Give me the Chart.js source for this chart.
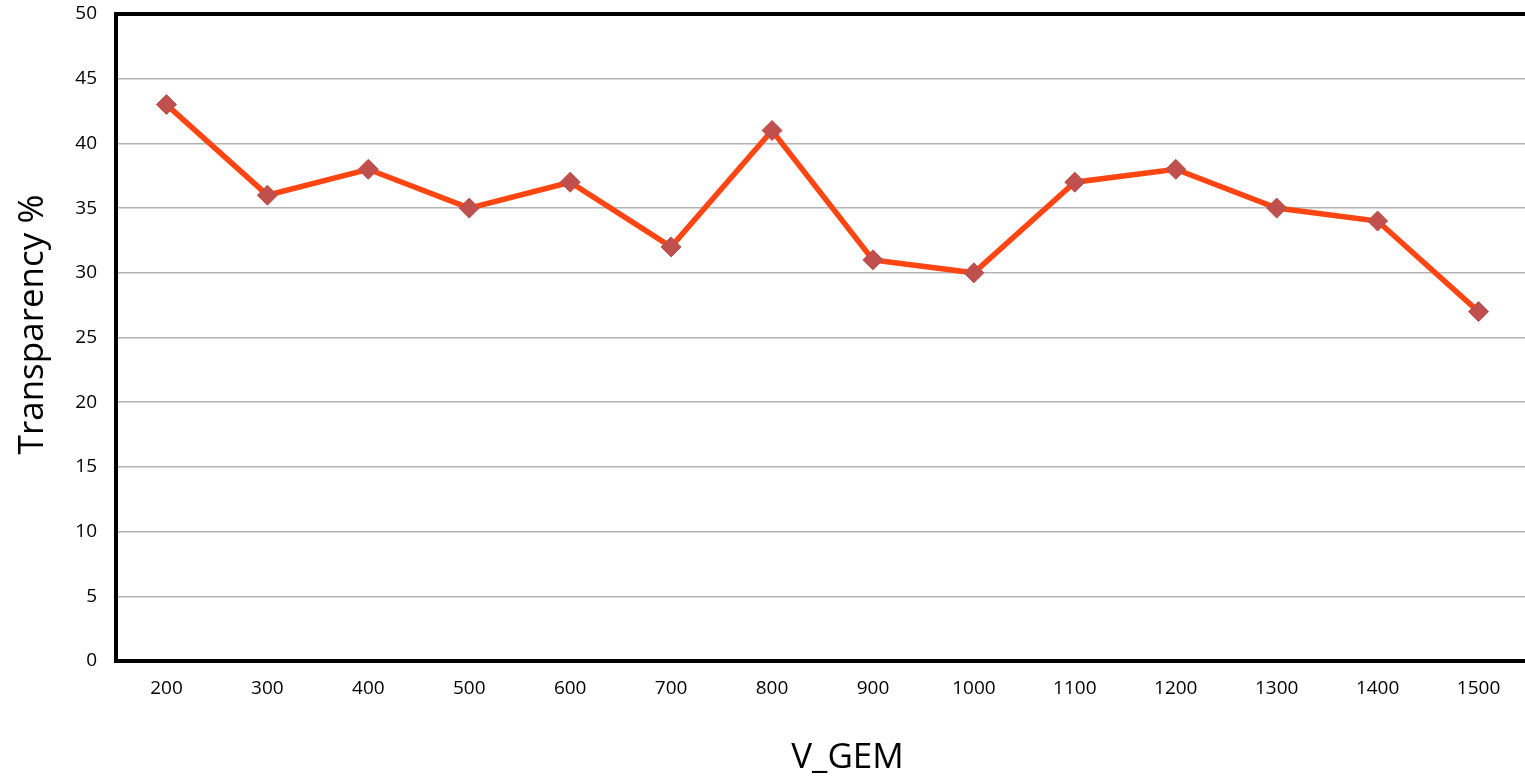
<!DOCTYPE html>
<html>
<head>
<meta charset="utf-8">
<script src="https://cdn.jsdelivr.net/npm/chart.js@4/dist/chart.umd.min.js"></script>
<style>
  html, body { margin: 0; padding: 0; background: #fff; overflow: hidden; }
  #wrap { width: 1540px; height: 782px; }
</style>
</head>
<body>
<div id="wrap"><canvas id="c" width="1540" height="782"></canvas></div>
<script>
// GEM voltage settings (x categories)
const voltages = ['200', '300', '400', '500', '600', '700', '800', '900', '1000', '1100', '1200', '1300', '1400', '1500'];
// Measured transparency (%) at each voltage
const transparency = [43, 36, 38, 35, 37, 32, 41, 31, 30, 37, 38, 35, 34, 27];
// Value axis range and step
const yMin = 0;
const yMax = 50;
const yStep = 5;
// Axis titles
const xTitle = 'V_GEM';
const yTitle = 'Transparency %';

const FONT = "'Open Sans', 'Noto Sans', sans-serif";

// Axis titles, placed relative to the plot area
const axisTitles = {
  id: 'axisTitles',
  afterDraw(chart) {
    const { ctx, chartArea } = chart;
    ctx.save();
    ctx.fillStyle = '#000';
    ctx.font = `35px ${FONT}`;
    ctx.textAlign = 'center';
    ctx.textBaseline = 'middle';
    // horizontal title under the category labels
    ctx.fillText(xTitle, (chartArea.left + chartArea.right) / 2 + 25, chartArea.bottom + 97);
    // vertical title left of the value labels
    ctx.translate(33, (chartArea.top + chartArea.bottom) / 2 - 13);
    ctx.rotate(-Math.PI / 2);
    ctx.fillText(yTitle, 0, 0);
    ctx.restore();
  }
};

new Chart(document.getElementById('c'), {
  type: 'line',
  data: {
    labels: voltages,
    datasets: [{
      data: transparency,
      borderColor: '#FF4512',
      borderWidth: 5.5,
      tension: 0,
      fill: false,
      pointStyle: 'rectRot',
      pointRadius: 10,
      pointHoverRadius: 10,
      pointBackgroundColor: '#C0504D',
      pointBorderColor: '#BA4D4A',
      pointBorderWidth: 1
    }]
  },
  plugins: [axisTitles],
  options: {
    responsive: false,
    animation: false,
    layout: { padding: { top: 14, right: 10, left: 0, bottom: 0 } },
    plugins: {
      legend: { display: false },
      tooltip: { enabled: false }
    },
    scales: {
      x: {
        type: 'category',
        offset: true,
        grid: { display: false, drawTicks: false },
        border: { display: true, color: '#000', width: 4 },
        ticks: {
          color: '#000',
          font: { family: FONT, size: 19 },
          padding: 16,
          maxRotation: 0,
          autoSkip: false
        },
        afterFit: (scale) => {
          scale.height = 121;
          scale.paddingLeft = 0;
          scale.paddingRight = 0;
        }
      },
      y: {
        min: yMin,
        max: yMax,
        ticks: {
          stepSize: yStep,
          color: '#000',
          font: { family: FONT, size: 19 },
          padding: 19
        },
        grid: {
          drawTicks: false,
          color: (ctx) => (ctx.tick && ctx.tick.value === yMax) ? '#000' : '#b4b4b4',
          lineWidth: (ctx) => (ctx.tick && ctx.tick.value === yMax) ? 4 : 1.5
        },
        border: { display: true, color: '#000', width: 4 },
        afterFit: (scale) => {
          scale.width = 116;
          scale.paddingTop = 0;
          scale.paddingBottom = 0;
        }
      }
    }
  }
});
</script>
</body>
</html>
